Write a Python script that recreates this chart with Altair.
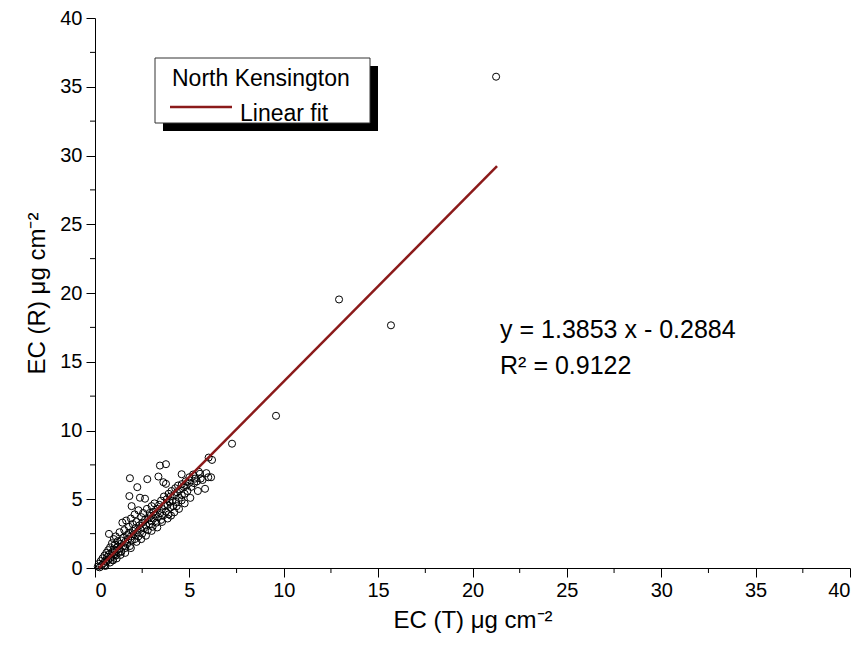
import altair as alt
import pandas as pd

FONT = "Liberation Sans"

# scatter data (EC thermal vs EC reflectance)
ec_t = [0.15, 0.2, 0.25, 0.3, 0.35, 0.4, 0.45, 0.5, 0.5, 0.55, 0.6, 0.6, 0.65, 0.7, 0.7, 0.74, 0.75, 0.8, 0.8, 0.85,
        0.9, 0.9, 0.95, 1.0, 1.0, 1.0,
        1.05, 1.1, 1.1, 1.15, 1.2, 1.2, 1.25, 1.3, 1.3, 1.35, 1.4, 1.4, 1.45, 1.5, 1.5, 1.55, 1.6, 1.6, 1.65, 1.7,
        1.7, 1.75, 1.8, 1.8, 1.85, 1.85, 1.9, 1.9, 1.94, 1.95, 1.82, 2.0, 2.0,
        2.05, 2.1, 2.1, 2.15, 2.2, 2.24, 2.25, 2.3, 2.3, 2.35, 2.38, 2.4, 2.45, 2.5, 2.5, 2.55, 2.6, 2.65, 2.65, 2.7,
        2.77, 2.75, 2.8, 2.85, 2.9, 2.9, 2.95, 3.0, 3.0,
        3.05, 3.1, 3.1, 3.15, 3.2, 3.25, 3.3, 3.36, 3.35, 3.44, 3.4, 3.45, 3.5, 3.5, 3.55, 3.62, 3.6, 3.65, 3.7, 3.76,
        3.76, 3.75, 3.8, 3.85, 3.9, 3.9, 3.95, 4.0, 4.0,
        4.03, 4.05, 4.1, 4.15, 4.2, 4.25, 4.3, 4.33, 4.35, 4.4, 4.45, 4.5, 4.59, 4.59, 4.6, 4.6, 4.7, 4.75, 4.8, 4.85,
        4.9, 5.0, 5.0,
        5.1, 5.25, 5.2, 5.3, 5.4, 5.5, 5.56, 5.6, 5.7, 5.83, 5.9, 6.02, 6.2, 6.15, 6.0,
        0.55, 0.95, 1.15, 1.35, 1.6, 1.9, 2.2, 2.45, 2.7, 3.0, 3.3, 3.55, 3.85, 4.2, 4.45, 4.75, 5.05, 5.45,
        7.26, 9.59, 12.93, 15.68, 21.25]
ec_r = [0.1, 0.3, 0.05, 0.5, 0.2, 0.7, 0.35, 0.9, 0.2, 0.55, 1.1, 0.45, 0.8, 1.3, 0.6, 2.48, 1.0, 0.4, 1.5, 0.75,
        1.15, 1.8, 0.6, 1.35, 0.95, 2.1,
        1.7, 0.9, 2.3, 1.25, 1.55, 1.95, 1.1, 2.6, 1.4, 1.75, 2.0, 1.2, 3.3, 1.6, 2.2, 2.75, 1.45, 1.9, 3.45, 2.4,
        1.75, 2.1, 3.0, 2.55, 6.53, 1.6, 2.3, 3.6, 4.5, 2.0, 5.23, 2.7, 3.2,
        2.45, 2.1, 3.9, 2.9, 3.35, 5.88, 2.6, 4.2, 2.3, 3.1, 5.11, 2.85, 3.7, 2.5, 3.3, 4.0, 2.9, 5.04, 3.5, 3.1,
        6.46, 4.3, 2.75, 3.6, 3.2, 4.0, 3.8, 3.4, 4.5,
        3.0, 4.1, 3.6, 4.7, 3.9, 3.3, 4.3, 6.65, 3.7, 7.45, 4.6, 4.0, 3.5, 4.9, 4.3, 6.24, 3.8, 5.2, 4.5, 7.55,
        6.12, 4.1, 5.0, 4.6, 3.9, 5.4, 4.8, 5.2, 4.4,
        3.81, 5.6, 4.9, 4.5, 5.3, 5.8, 4.8, 4.5, 5.5, 6.0, 5.1, 5.7, 6.82, 4.92, 5.3, 6.1, 5.9, 5.4, 6.3, 6.0,
        5.6, 6.6, 6.2,
        5.9, 6.17, 6.8, 6.5, 6.3, 7.0, 6.85, 6.5, 6.4, 5.76, 6.9, 8.03, 7.86, 6.6, 6.6,
        0.15, 0.55, 0.7, 0.95, 1.1, 1.45, 1.9, 2.1, 2.35, 2.7, 2.95, 3.35, 3.6, 4.05, 4.3, 4.7, 5.1, 5.6,
        9.04, 11.07, 19.53, 17.65, 35.73]

# linear fit end points (y = 1.3853 x - 0.2884)
fit_x = [0.21, 21.3]
fit_y = [0.0, 29.22]

major_ticks = [0, 5, 10, 15, 20, 25, 30, 35, 40]
minor_ticks = [2.5, 7.5, 12.5, 17.5, 22.5, 27.5, 32.5, 37.5]

equation_lines = ["y = 1.3853 x - 0.2884", "R² = 0.9122"]
equation_x = [21.46, 21.46]
equation_y = [16.7, 14.1]

legend_labels = ["North Kensington", "Linear fit"]

TOP = 10
W, H = 755, 560 - TOP

pts = pd.DataFrame({"x": ec_t, "y": ec_r})
fit = pd.DataFrame({"x": fit_x, "y": fit_y})
minor = pd.DataFrame({"v": minor_ticks})
eq = pd.DataFrame({"x": equation_x, "y": equation_y, "t": equation_lines})

xscale = alt.Scale(domain=[0, 40], nice=False, zero=False)
yscale = alt.Scale(domain=[0, 40], nice=False, zero=False)

xaxis = alt.Axis(values=major_ticks, title="EC (T) μg cm⁻²", tickSize=9, labelPadding=3,
                 titlePadding=8, grid=False)
yaxis = alt.Axis(values=major_ticks, title="EC (R) μg cm⁻²", tickSize=9, labelPadding=4,
                 titlePadding=10, grid=False)

points = alt.Chart(pts).mark_point(shape="circle", filled=False, color="black", size=50,
                                   strokeWidth=1, opacity=1).encode(
    x=alt.X("x:Q", scale=xscale, axis=xaxis),
    y=alt.Y("y:Q", scale=yscale, axis=yaxis),
)

line = alt.Chart(fit).mark_line(color="#8B1A1A", strokeWidth=2.5).encode(
    x=alt.X("x:Q", scale=xscale), y=alt.Y("y:Q", scale=yscale)
)

minor_x = alt.Chart(minor).mark_rule(color="black", strokeWidth=1).encode(
    x=alt.X("v:Q", scale=xscale), y=alt.value(H), y2=alt.value(H + 5)
)
minor_y = alt.Chart(minor).mark_rule(color="black", strokeWidth=1).encode(
    y=alt.Y("v:Q", scale=yscale), x=alt.value(0), x2=alt.value(-5)
)

eq_text = alt.Chart(eq).mark_text(align="left", baseline="alphabetic", font=FONT, fontSize=25,
                                  color="black").encode(
    x=alt.X("x:Q", scale=xscale), y=alt.Y("y:Q", scale=yscale), text="t:N"
)

# legend box with shadow (pixel offsets relative to the plot's top-left)
oy = 15 - (8 + TOP)
shadow = alt.Chart(pd.DataFrame({"a": [0]})).mark_rect(color="black").encode(
    x=alt.value(68), x2=alt.value(283), y=alt.value(51 + oy), y2=alt.value(116 + oy)
)
box = alt.Chart(pd.DataFrame({"a": [0]})).mark_rect(fill="white", stroke="#333333", strokeWidth=1).encode(
    x=alt.value(60), x2=alt.value(275), y=alt.value(43 + oy), y2=alt.value(108 + oy)
)
leg_line = alt.Chart(pd.DataFrame({"a": [0]})).mark_rule(color="#8B1A1A", strokeWidth=2.5).encode(
    x=alt.value(75), x2=alt.value(137), y=alt.value(92 + oy)
)
leg_text = alt.Chart(pd.DataFrame({"t": legend_labels, "px": [77, 145], "py": [71 + oy, 106 + oy]})).mark_text(
    align="left", baseline="alphabetic", font=FONT, fontSize=23, color="black").encode(
    x=alt.X("px:Q", scale=None), y=alt.Y("py:Q", scale=None), text="t:N"
)

chart = alt.layer(points, line, minor_x, minor_y, eq_text, shadow, box, leg_line, leg_text).properties(
    width=W, height=H,
    autosize=alt.AutoSizeParams(type="none"),
    padding={"left": 87, "top": TOP, "right": 5, "bottom": 87},
).configure_view(stroke=None).configure_axis(
    domainColor="black", tickColor="black", labelColor="black", titleColor="black",
    labelFont=FONT, titleFont=FONT, labelFontSize=20, titleFontSize=24, titleFontWeight="normal",
    domainWidth=1, tickWidth=1,
)

chart.save("out.html", embed_options={"renderer": "svg", "actions": False})
